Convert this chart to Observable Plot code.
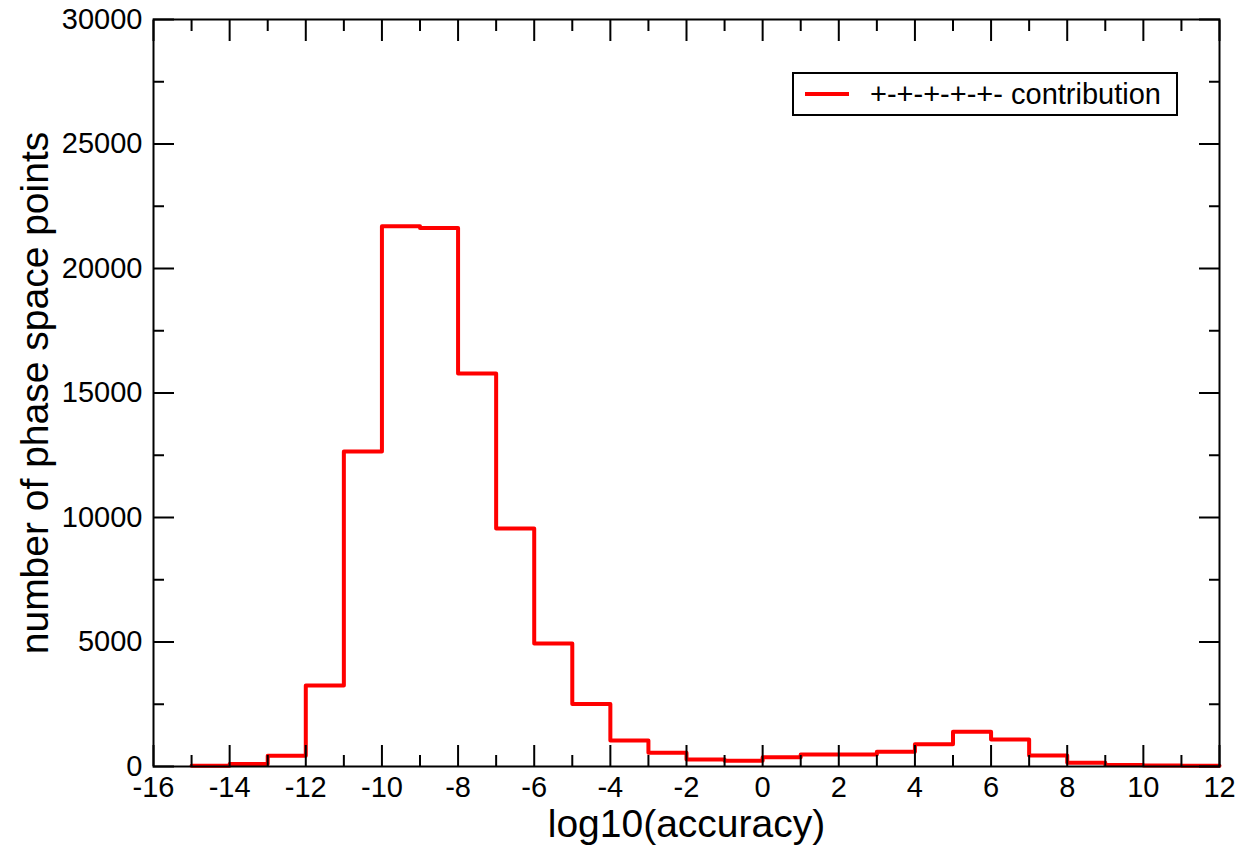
<!DOCTYPE html>
<html>
<head>
<meta charset="utf-8">
<script src="https://cdn.jsdelivr.net/npm/d3@7"></script>
<script src="https://cdn.jsdelivr.net/npm/@observablehq/plot@0.6"></script>
<style>
  html, body { margin: 0; padding: 0; background: #fff; }
  #wrap { position: relative; width: 1239px; height: 846px; font-family: "Liberation Sans", Arial, Helvetica, sans-serif; }
  #legend { position: absolute; left: 792px; top: 72px; width: 382px; height: 40px; border: 2px solid #000; background: #fff; }
  #legend .swatch { position: absolute; left: 11px; top: 18px; width: 44px; height: 4px; background: #ff0000; }
  #legend .lbl { position: absolute; left: 76px; top: 3px; font-size: 29px; line-height: 34px; white-space: nowrap; color: #000; }
</style>
</head>
<body>
<div id="wrap"></div>
<script>
// bin left edges (log10 accuracy) and counts per bin
const binStart = [-15,-14,-13,-12,-11,-10,-9,-8,-7,-6,-5,-4,-3,-2,-1,0,1,2,3,4,5,6,7,8,9,10,11];
const counts   = [30,100,430,3250,12650,21700,21630,15780,9560,4940,2510,1040,550,280,230,375,480,480,590,890,1400,1080,440,150,60,40,30];
const binEnd = 12;
const xMajorTicks = d3.range(-16, 13, 2);
const xMinorTicks = d3.range(-15, 12, 2);
const yMajorTicks = d3.range(0, 30001, 5000);
const yMinorTicks = d3.range(2500, 30000, 5000);
const seriesName = "+-+-+-+-+- contribution";

const lineData = binStart.map((x, i) => ({x, y: counts[i]}));
lineData.push({x: binEnd, y: counts[counts.length - 1]});

const blank = () => "";
const plain = d => String(d);
const font = "Liberation Sans, Arial, Helvetica, sans-serif";

const chart = Plot.plot({
  width: 1239,
  height: 846,
  marginLeft: 153,
  marginRight: 20,
  marginTop: 19,
  marginBottom: 80,
  style: {fontFamily: font, fontSize: "29px", background: "#fff", color: "#000"},
  x: {domain: [-16, 12]},
  y: {domain: [0, 30000]},
  marks: [
    Plot.line(lineData, {x: "x", y: "y", curve: "step-after", stroke: "#ff0000", strokeWidth: 4}),
    // tick labels
    Plot.axisX({ticks: xMajorTicks, tickSize: 0, tickPadding: 10, fontSize: 29, tickFormat: plain, label: null}),
    Plot.axisY({ticks: yMajorTicks, tickSize: 0, tickPadding: 11, fontSize: 29, tickFormat: plain, label: null}),
    // inward ticks on all sides
    Plot.axisX({anchor: "bottom", ticks: xMajorTicks, tickSize: -21, tickFormat: blank, label: null, strokeWidth: 2}),
    Plot.axisX({anchor: "bottom", ticks: xMinorTicks, tickSize: -11, tickFormat: blank, label: null, strokeWidth: 2}),
    Plot.axisX({anchor: "top", ticks: xMajorTicks, tickSize: -21, tickFormat: blank, label: null, strokeWidth: 2}),
    Plot.axisX({anchor: "top", ticks: xMinorTicks, tickSize: -11, tickFormat: blank, label: null, strokeWidth: 2}),
    Plot.axisY({anchor: "left", ticks: yMajorTicks, tickSize: -21, tickFormat: blank, label: null, strokeWidth: 2}),
    Plot.axisY({anchor: "left", ticks: yMinorTicks, tickSize: -11, tickFormat: blank, label: null, strokeWidth: 2}),
    Plot.axisY({anchor: "right", ticks: yMajorTicks, tickSize: -21, tickFormat: blank, label: null, strokeWidth: 2}),
    Plot.axisY({anchor: "right", ticks: yMinorTicks, tickSize: -11, tickFormat: blank, label: null, strokeWidth: 2}),
    Plot.frame({stroke: "#000", strokeWidth: 2}),
    // axis titles
    Plot.text(["log10(accuracy)"], {text: d => d, frameAnchor: "bottom", dy: 58, fontSize: 39, textAnchor: "middle", lineAnchor: "middle", fill: "#000"}),
    Plot.text(["number of phase space points"], {text: d => d, frameAnchor: "left", dx: -118, rotate: -90, fontSize: 39, textAnchor: "middle", lineAnchor: "middle", fill: "#000"})
  ]
});

const wrap = document.getElementById("wrap");
wrap.appendChild(chart);
const legend = document.createElement("div");
legend.id = "legend";
legend.innerHTML = `<div class="swatch"></div><div class="lbl"></div>`;
legend.querySelector(".lbl").textContent = seriesName;
wrap.appendChild(legend);
</script>
</body>
</html>
